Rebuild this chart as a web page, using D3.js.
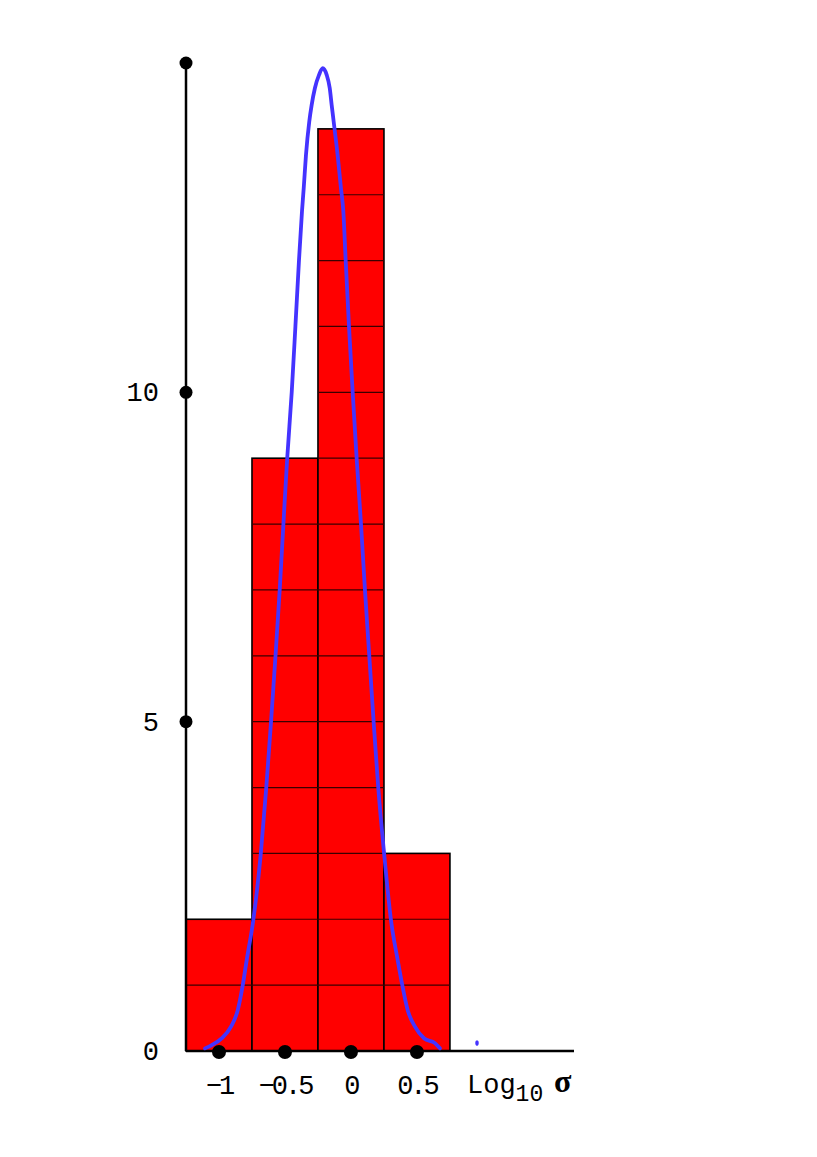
<!DOCTYPE html>
<html>
<head>
<meta charset="utf-8">
<script src="https://cdn.jsdelivr.net/npm/d3@7"></script>
<style>
  body { margin: 0; background: #fff; }
  text { font-family: "Liberation Mono", "DejaVu Sans Mono", monospace; fill: #000; }
</style>
</head>
<body>
<svg width="817" height="1157"></svg>
<script>
(function () {
  'use strict';

  // histogram of log10 sigma
  var binEdges = [-1.25, -0.75, -0.25, 0.25, 0.75];
  var counts = [2, 9, 14, 3];

  // axis ticks
  var yTicks = [0, 5, 10, 15];
  var yLabels = ["0", "5", "10", ""];
  var xTicks = [-1, -0.5, 0, 0.5];
  var xLabels = ["\u22121", "\u22120.5", "0", "0.5"];

  // fitted curve
  var curveX = [-1.106, -1.055, -0.980, -0.909, -0.858, -0.820, -0.790, -0.740, -0.684, -0.642,
                -0.606, -0.572, -0.540, -0.512, -0.483, -0.449, -0.421, -0.394, -0.371, -0.358,
                -0.341, -0.316, -0.298, -0.273, -0.242, -0.214, -0.184, -0.161, -0.146, -0.131,
                -0.101, -0.076, -0.058, -0.040, -0.015, 0.013, 0.043, 0.076, 0.106, 0.139,
                0.172, 0.207, 0.252, 0.303, 0.354, 0.389, 0.430, 0.485, 0.555, 0.636,
                0.674];
  var curveY = [0.04, 0.09, 0.19, 0.37, 0.62, 1.0, 1.38, 1.99, 2.98, 3.99,
                4.99, 5.99, 7.0, 8.0, 9.0, 10.0, 11.0, 12.0, 12.75, 13.10,
                13.60, 14.11, 14.36, 14.62, 14.82, 14.92, 14.82, 14.62, 14.36, 14.11,
                13.60, 13.10, 12.75, 12.0, 11.0, 10.0, 9.0, 8.0, 7.0, 5.99,
                4.99, 3.99, 2.98, 1.99, 1.38, 1.0, 0.62, 0.37, 0.19, 0.12,
                0.04];
  // stray point right of the histogram
  var strayPoint = [0.955, 0.12];

  var svg = d3.select("svg");

  var x = d3.scaleLinear().domain([-1.25, 1.69]).range([186, 574]);
  var y = d3.scaleLinear().domain([0, 15]).range([1051, 63]);

  // bars
  var bars = d3.range(counts.length).map(function(i) {
    return { x0: binEdges[i], x1: binEdges[i + 1], n: counts[i] };
  });

  svg.append("g").selectAll("rect")
    .data(bars)
    .enter().append("rect")
      .attr("x", function(d) { return x(d.x0); })
      .attr("y", function(d) { return y(d.n); })
      .attr("width", function(d) { return x(d.x1) - x(d.x0); })
      .attr("height", function(d) { return y(0) - y(d.n); })
      .attr("fill", "#ff0000")
      .attr("stroke", "#000")
      .attr("stroke-width", 1.6);

  // one line per unit inside each bar
  var cells = [];
  bars.forEach(function(b) {
    for (var k = 1; k < b.n; k++) cells.push({ x0: b.x0, x1: b.x1, k: k });
  });
  svg.append("g").selectAll("line")
    .data(cells)
    .enter().append("line")
      .attr("x1", function(d) { return x(d.x0); })
      .attr("x2", function(d) { return x(d.x1); })
      .attr("y1", function(d) { return y(d.k); })
      .attr("y2", function(d) { return y(d.k); })
      .attr("stroke", "#3a0000")
      .attr("stroke-width", 1.2);

  // axes
  svg.append("line")
    .attr("x1", x(-1.25)).attr("x2", x(-1.25))
    .attr("y1", y(0)).attr("y2", y(15))
    .attr("stroke", "#000").attr("stroke-width", 2.5);
  svg.append("line")
    .attr("x1", x(-1.25)).attr("x2", x(1.69))
    .attr("y1", y(0)).attr("y2", y(0))
    .attr("stroke", "#000").attr("stroke-width", 2.5);

  svg.append("g").selectAll("circle")
    .data(yTicks.filter(function(d) { return d > 0; }))
    .enter().append("circle")
      .attr("cx", x(-1.25))
      .attr("cy", function(d) { return y(d); })
      .attr("r", 6.5);

  svg.append("g").selectAll("text")
    .data(yTicks)
    .enter().append("text")
      .attr("x", 159)
      .attr("y", function(d) { return y(d) + 9; })
      .attr("text-anchor", "end")
      .attr("font-size", 27)
      .text(function(d, i) { return yLabels[i]; });

  svg.append("g").selectAll("circle")
    .data(xTicks)
    .enter().append("circle")
      .attr("cx", function(d) { return x(d); })
      .attr("cy", y(0) + 1)
      .attr("r", 7);

  svg.append("g").selectAll("text")
    .data(xTicks)
    .enter().append("text")
      .attr("x", function(d) { return x(d); })
      .attr("y", 1094)
      .attr("text-anchor", "middle")
      .attr("font-size", 27)
      .attr("letter-spacing", -3)
      .text(function(d, i) { return xLabels[i]; });

  // axis title: Log10 sigma
  var title = svg.append("text")
    .attr("x", 467)
    .attr("y", 1093)
    .attr("font-size", 27);
  title.append("tspan").text("Log");
  title.append("tspan").attr("font-size", 23).attr("dy", 8).text("10");
  svg.append("text")
    .attr("x", 554)
    .attr("y", 1092)
    .attr("font-size", 32)
    .attr("font-weight", "bold")
    .style("font-family", "'Liberation Serif', serif")
    .text("\u03c3");

  // curve
  var pts = curveX.map(function(v, i) { return [v, curveY[i]]; });
  var line = d3.line()
    .x(function(d) { return x(d[0]); })
    .y(function(d) { return y(d[1]); })
    .curve(d3.curveMonotoneX);

  svg.append("path")
    .datum(pts)
    .attr("d", line)
    .attr("fill", "none")
    .attr("stroke", "#4433ff")
    .attr("stroke-width", 3.8)
    .attr("stroke-linecap", "round");

  svg.append("ellipse")
    .attr("cx", x(strayPoint[0]))
    .attr("cy", y(strayPoint[1]))
    .attr("rx", 1.8)
    .attr("ry", 2.8)
    .attr("fill", "#4433ff");

}());
</script>
</body>
</html>
